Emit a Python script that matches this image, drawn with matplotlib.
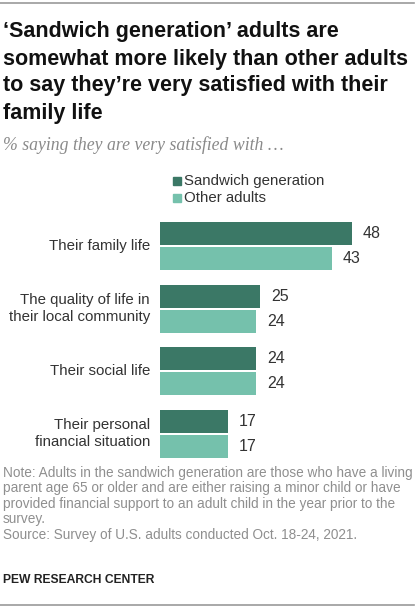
import matplotlib.pyplot as plt
from matplotlib.patches import Rectangle
from matplotlib.lines import Line2D

# Data
categories = ["Their family life", "The quality of life in\ntheir local community",
              "Their social life", "Their personal\nfinancial situation"]
sandwich = [48, 25, 24, 17]
other = [43, 24, 24, 17]
series_names = ["Sandwich generation", "Other adults"]

dark = "#3b7866"
light = "#75c1ac"
W, H = 416, 611

fig = plt.figure(figsize=(W / 100, H / 100), dpi=100)
plt.rcParams['font.family'] = ['Liberation Sans', 'DejaVu Sans']


def fx(px):
    return px / W


def fy(py):
    return 1 - py / H


# top and bottom rules
fig.add_artist(Line2D([0, fx(414)], [fy(3), fy(3)], color="#9a9a9a", lw=1.2))
fig.add_artist(Line2D([0, fx(414)], [fy(605), fy(605)], color="#9a9a9a", lw=1.2))

# title
title_lines = ["\u2018Sandwich generation\u2019 adults are",
               "somewhat more likely than other adults",
               "to say they\u2019re very satisfied with their",
               "family life"]
for i, line in enumerate(title_lines):
    fig.text(fx(3), fy(32 + 27 * i), line, fontsize=15.5, fontweight="bold",
             color="#111111", va="center", ha="left")

fig.text(fx(3), fy(145), "% saying they are very satisfied with \u2026",
         fontsize=12.8, style="italic", family="Liberation Serif",
         color="#8a8a8a", va="center", ha="left")

# legend
for i, (name, col) in enumerate(zip(series_names, [dark, light])):
    yc = 181 + 17 * i
    fig.add_artist(Rectangle((fx(173), fy(yc + 4)), fx(8), 8 / H, color=col,
                             transform=fig.transFigure))
    fig.text(fx(184), fy(yc), name, fontsize=10.8, color="#333333",
             va="center", ha="left")

# bars
ax = fig.add_axes([fx(160), 1 - 465 / H, fx(240), 250 / H])
pos = list(range(len(categories)))
h = 0.37
off = 0.2
ax.barh([p - off for p in pos], sandwich, height=h, color=dark)
ax.barh([p + off for p in pos], other, height=h, color=light)
ax.set_xlim(0, 60)
ax.set_ylim(3.5, -0.5)
ax.axis("off")

for p, v in zip(pos, sandwich):
    ax.annotate(str(v), (v, p - off), xytext=(11, 0), textcoords="offset pixels",
                va="center", ha="left", fontsize=11.5, color="#333333")
for p, v in zip(pos, other):
    ax.annotate(str(v), (v, p + off), xytext=(11, 0), textcoords="offset pixels",
                va="center", ha="left", fontsize=11.5, color="#333333")
for p, c in zip(pos, categories):
    ax.annotate(c, (0, p), xytext=(-10, 0), textcoords="offset pixels",
                va="center", ha="right", fontsize=10.8, color="#333333",
                linespacing=1.3)

# notes
note = ("Note: Adults in the sandwich generation are those who have a living\n"
        "parent age 65 or older and are either raising a minor child or have\n"
        "provided financial support to an adult child in the year prior to the\n"
        "survey.\n"
        "Source: Survey of U.S. adults conducted Oct. 18-24, 2021.")
fig.text(fx(3), fy(466), note, fontsize=9.8, color="#8f8f8f", va="top",
         ha="left", linespacing=1.13)
fig.text(fx(3), fy(580), "PEW RESEARCH CENTER", fontsize=8.7, fontweight="bold",
         color="#222222", va="center", ha="left")

fig.savefig("out.png", dpi=100)
